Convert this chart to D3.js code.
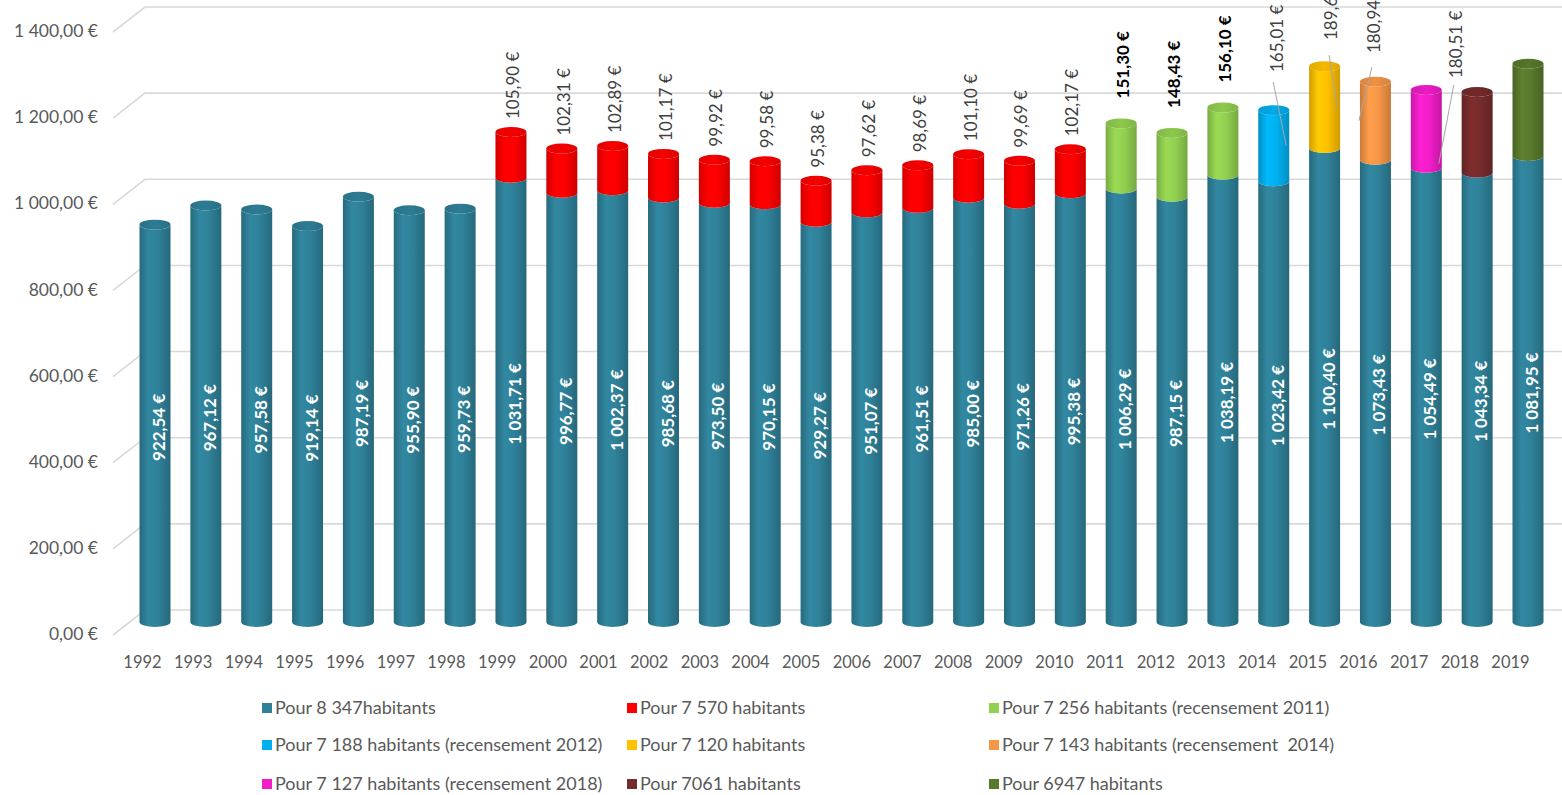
<!DOCTYPE html>
<html><head><meta charset="utf-8">
<script src="https://cdn.jsdelivr.net/npm/d3@7"></script>
<style>
html,body{margin:0;padding:0;background:#fff;}
svg{display:block;font-family:Lato,"Open Sans",sans-serif;}
</style></head>
<body>
<svg id="chart" width="1562" height="795"></svg>
<script>
// ---------- DATA ----------
const years = ["1992","1993","1994","1995","1996","1997","1998","1999","2000","2001","2002","2003","2004","2005","2006","2007","2008","2009","2010","2011","2012","2013","2014","2015","2016","2017","2018","2019"];
const baseValues = [922.54,967.12,957.58,919.14,987.19,955.90,959.73,1031.71,996.77,1002.37,985.68,973.50,970.15,929.27,951.07,961.51,985.00,971.26,995.38,1006.29,987.15,1038.19,1023.42,1100.40,1073.43,1054.49,1043.34,1081.95];
const topValues  = [0,0,0,0,0,0,0,105.90,102.31,102.89,101.17,99.92,99.58,95.38,97.62,98.69,101.10,99.69,102.17,151.30,148.43,156.10,165.01,189.63,180.94,180.51,187.0,214.0];
const topSeries  = [-1,-1,-1,-1,-1,-1,-1,1,1,1,1,1,1,1,1,1,1,1,1,2,2,2,3,4,5,6,7,8];
const seriesNames = ["Pour 8 347habitants","Pour 7 570 habitants","Pour 7 256 habitants (recensement 2011)",
  "Pour 7 188 habitants (recensement 2012)","Pour 7 120 habitants","Pour 7 143 habitants (recensement  2014)",
  "Pour 7 127 habitants (recensement 2018)","Pour 7061 habitants","Pour 6947 habitants"];
const seriesColors = ["#2f8199","#ff0000","#92d050","#00b0f0","#ffc000","#f79646","#f21dc9","#772b2b","#587a2c"];
const yTicks = [0,200,400,600,800,1000,1200,1400];
const hiddenTopLabels = ["2018","2019"];
const boldTopLabels = ["2011","2012","2013"];
// leader-line label layout (pixel offsets, not data)
const leaderLayout = {
  "2014": {dx: 3,   yStart: 72, lineFrom: [-0.5, 82], lineTo: [12.5, "mid"]},
  "2015": {dx: 6.5, yStart: 40, lineFrom: [4.5, 55],  lineTo: [12.5, "mid"]},
  "2016": {dx: -1.5,yStart: 53, lineFrom: [-3.5, 67], lineTo: [-16.5, "mid"]},
  "2017": {dx: 30,  yStart: 78, lineFrom: [27.5, 85], lineTo: [12.5, "low"]}
};

// ---------- SETUP ----------
const svg = d3.select("#chart");
const W = 1562, H = 795;
const fr = d3.formatLocale({decimal: ",", thousands: " ", grouping: [3], currency: ["", ""]});
const fmt = v => fr.format(",.2f")(v) + " €";

const x = d3.scalePoint().domain(years).range([155, 1528]);
const y = d3.scaleLinear().domain([0, 1400]).range([622, 19]);
const DEPTH = 12;
const rx = 15.5, ry = 5;

const defs = svg.append("defs");
seriesColors.forEach((c, i) => {
  const g = defs.append("linearGradient").attr("id", "g" + i).attr("x1", "0%").attr("x2", "100%");
  const col = d3.color(c);
  g.append("stop").attr("offset", "0%").attr("stop-color", col.darker(0.55));
  g.append("stop").attr("offset", "30%").attr("stop-color", col.brighter(0.15));
  g.append("stop").attr("offset", "60%").attr("stop-color", col);
  g.append("stop").attr("offset", "100%").attr("stop-color", col.darker(0.6));
  const t = defs.append("linearGradient").attr("id", "t" + i).attr("x1", "0%").attr("x2", "100%");
  t.append("stop").attr("offset", "0%").attr("stop-color", col.darker(0.35));
  t.append("stop").attr("offset", "50%").attr("stop-color", col.darker(0.1));
  t.append("stop").attr("offset", "100%").attr("stop-color", col.darker(0.4));
});

// ---------- GRID (3D walls) ----------
const grid = svg.append("g");
yTicks.forEach(v => {
  const yf = y(v) + DEPTH, yb = y(v) - DEPTH;
  grid.append("path")
    .attr("d", `M113,${yf + 1}L145,${yb}L${W},${yb}`)
    .attr("fill", "none").attr("stroke", "#d9d9d9").attr("stroke-width", 1.6);
});

// ---------- Y AXIS ----------
const yFront = d3.scaleLinear().domain(y.domain()).range(y.range().map(r => r + DEPTH));
const yAxis = svg.append("g").attr("transform", "translate(98,0)")
  .call(d3.axisLeft(yFront).tickValues(yTicks).tickFormat(fmt).tickSize(0).tickPadding(0));
yAxis.select(".domain").remove();
yAxis.selectAll("text").attr("font-family", "Lato, sans-serif").attr("font-size", 17.5).attr("fill", "#595959");

// ---------- X AXIS ----------
const xFront = d3.scalePoint().domain(years).range([142, 1510]);
const xAxis = svg.append("g").attr("transform", "translate(0,656)")
  .call(d3.axisBottom(xFront).tickSize(0).tickPadding(0));
xAxis.select(".domain").remove();
xAxis.selectAll("text").attr("font-family", "Lato, sans-serif").attr("font-size", 16.5).attr("fill", "#595959");

// ---------- BARS ----------
function body(cx, yb, yt) {
  const x0 = cx - rx, x1 = cx + rx;
  return `M${x0},${yb}A${rx},${ry} 0 0 0 ${x1},${yb}L${x1},${yt}A${rx},${ry} 0 0 1 ${x0},${yt}Z`;
}
const bars = svg.append("g");
years.forEach((yr, i) => {
  const cx = x(yr);
  const b = baseValues[i];
  const t = topValues[i];
  const s = topSeries[i];
  const y0 = y(0), y1 = y(b), y2 = y(b + t);
  bars.append("path").attr("d", body(cx, y0, y1)).attr("fill", "url(#g0)");
  if (s >= 0) {
    bars.append("path").attr("d", body(cx, y1, y2)).attr("fill", `url(#g${s})`);
    bars.append("ellipse").attr("cx", cx).attr("cy", y2).attr("rx", rx).attr("ry", ry).attr("fill", `url(#t${s})`);
  } else {
    bars.append("ellipse").attr("cx", cx).attr("cy", y1).attr("rx", rx).attr("ry", ry).attr("fill", "url(#t0)");
  }
  // inner label
  bars.append("text")
    .attr("transform", `translate(${cx + 10},${(y0 + y1) / 2 + 4}) rotate(-90)`)
    .attr("text-anchor", "middle").attr("font-size", 17).attr("font-weight", "bold")
    .attr("fill", "#ffffff").text(fmt(b));
});

// ---------- TOP LABELS ----------
const labels = svg.append("g");
years.forEach((yr, i) => {
  const s = topSeries[i];
  if (s < 0 || hiddenTopLabels.includes(yr)) return;
  const cx = x(yr);
  const b = baseValues[i], t = topValues[i];
  const yTop = y(b + t);
  const bold = boldTopLabels.includes(yr);
  const lay = leaderLayout[yr];
  let lx, ly;
  if (lay) {
    lx = cx + lay.dx; ly = lay.yStart;
    const ty = lay.lineTo[1] === "mid" ? (y(b) + yTop) / 2 : y(b) - 4;
    labels.append("line")
      .attr("x1", cx + lay.lineFrom[0]).attr("y1", lay.lineFrom[1])
      .attr("x2", cx + lay.lineTo[0]).attr("y2", ty)
      .attr("stroke", "#a6a6a6").attr("stroke-width", 1);
  } else {
    lx = cx + 2; ly = yTop - (bold ? 25 : 13);
  }
  labels.append("text")
    .attr("transform", `translate(${lx + 6},${ly}) rotate(-90)`)
    .attr("text-anchor", "start").attr("font-size", 17)
    .attr("font-weight", bold ? "bold" : "normal")
    .attr("fill", bold ? "#000000" : "#404040").text(fmt(t));
});

// ---------- LEGEND ----------
const legCols = [262, 627, 989], legRows = [708, 745, 784];
const legend = svg.append("g");
seriesNames.forEach((n, i) => {
  const lx = legCols[i % 3], ly = legRows[Math.floor(i / 3)];
  legend.append("rect").attr("x", lx).attr("y", ly - 5).attr("width", 10).attr("height", 10).attr("fill", seriesColors[i]);
  legend.append("text").attr("x", lx + 13).attr("y", ly + 6).attr("font-size", 18).attr("fill", "#595959")
    .style("white-space", "pre").text(n);
});
</script>
</body></html>
